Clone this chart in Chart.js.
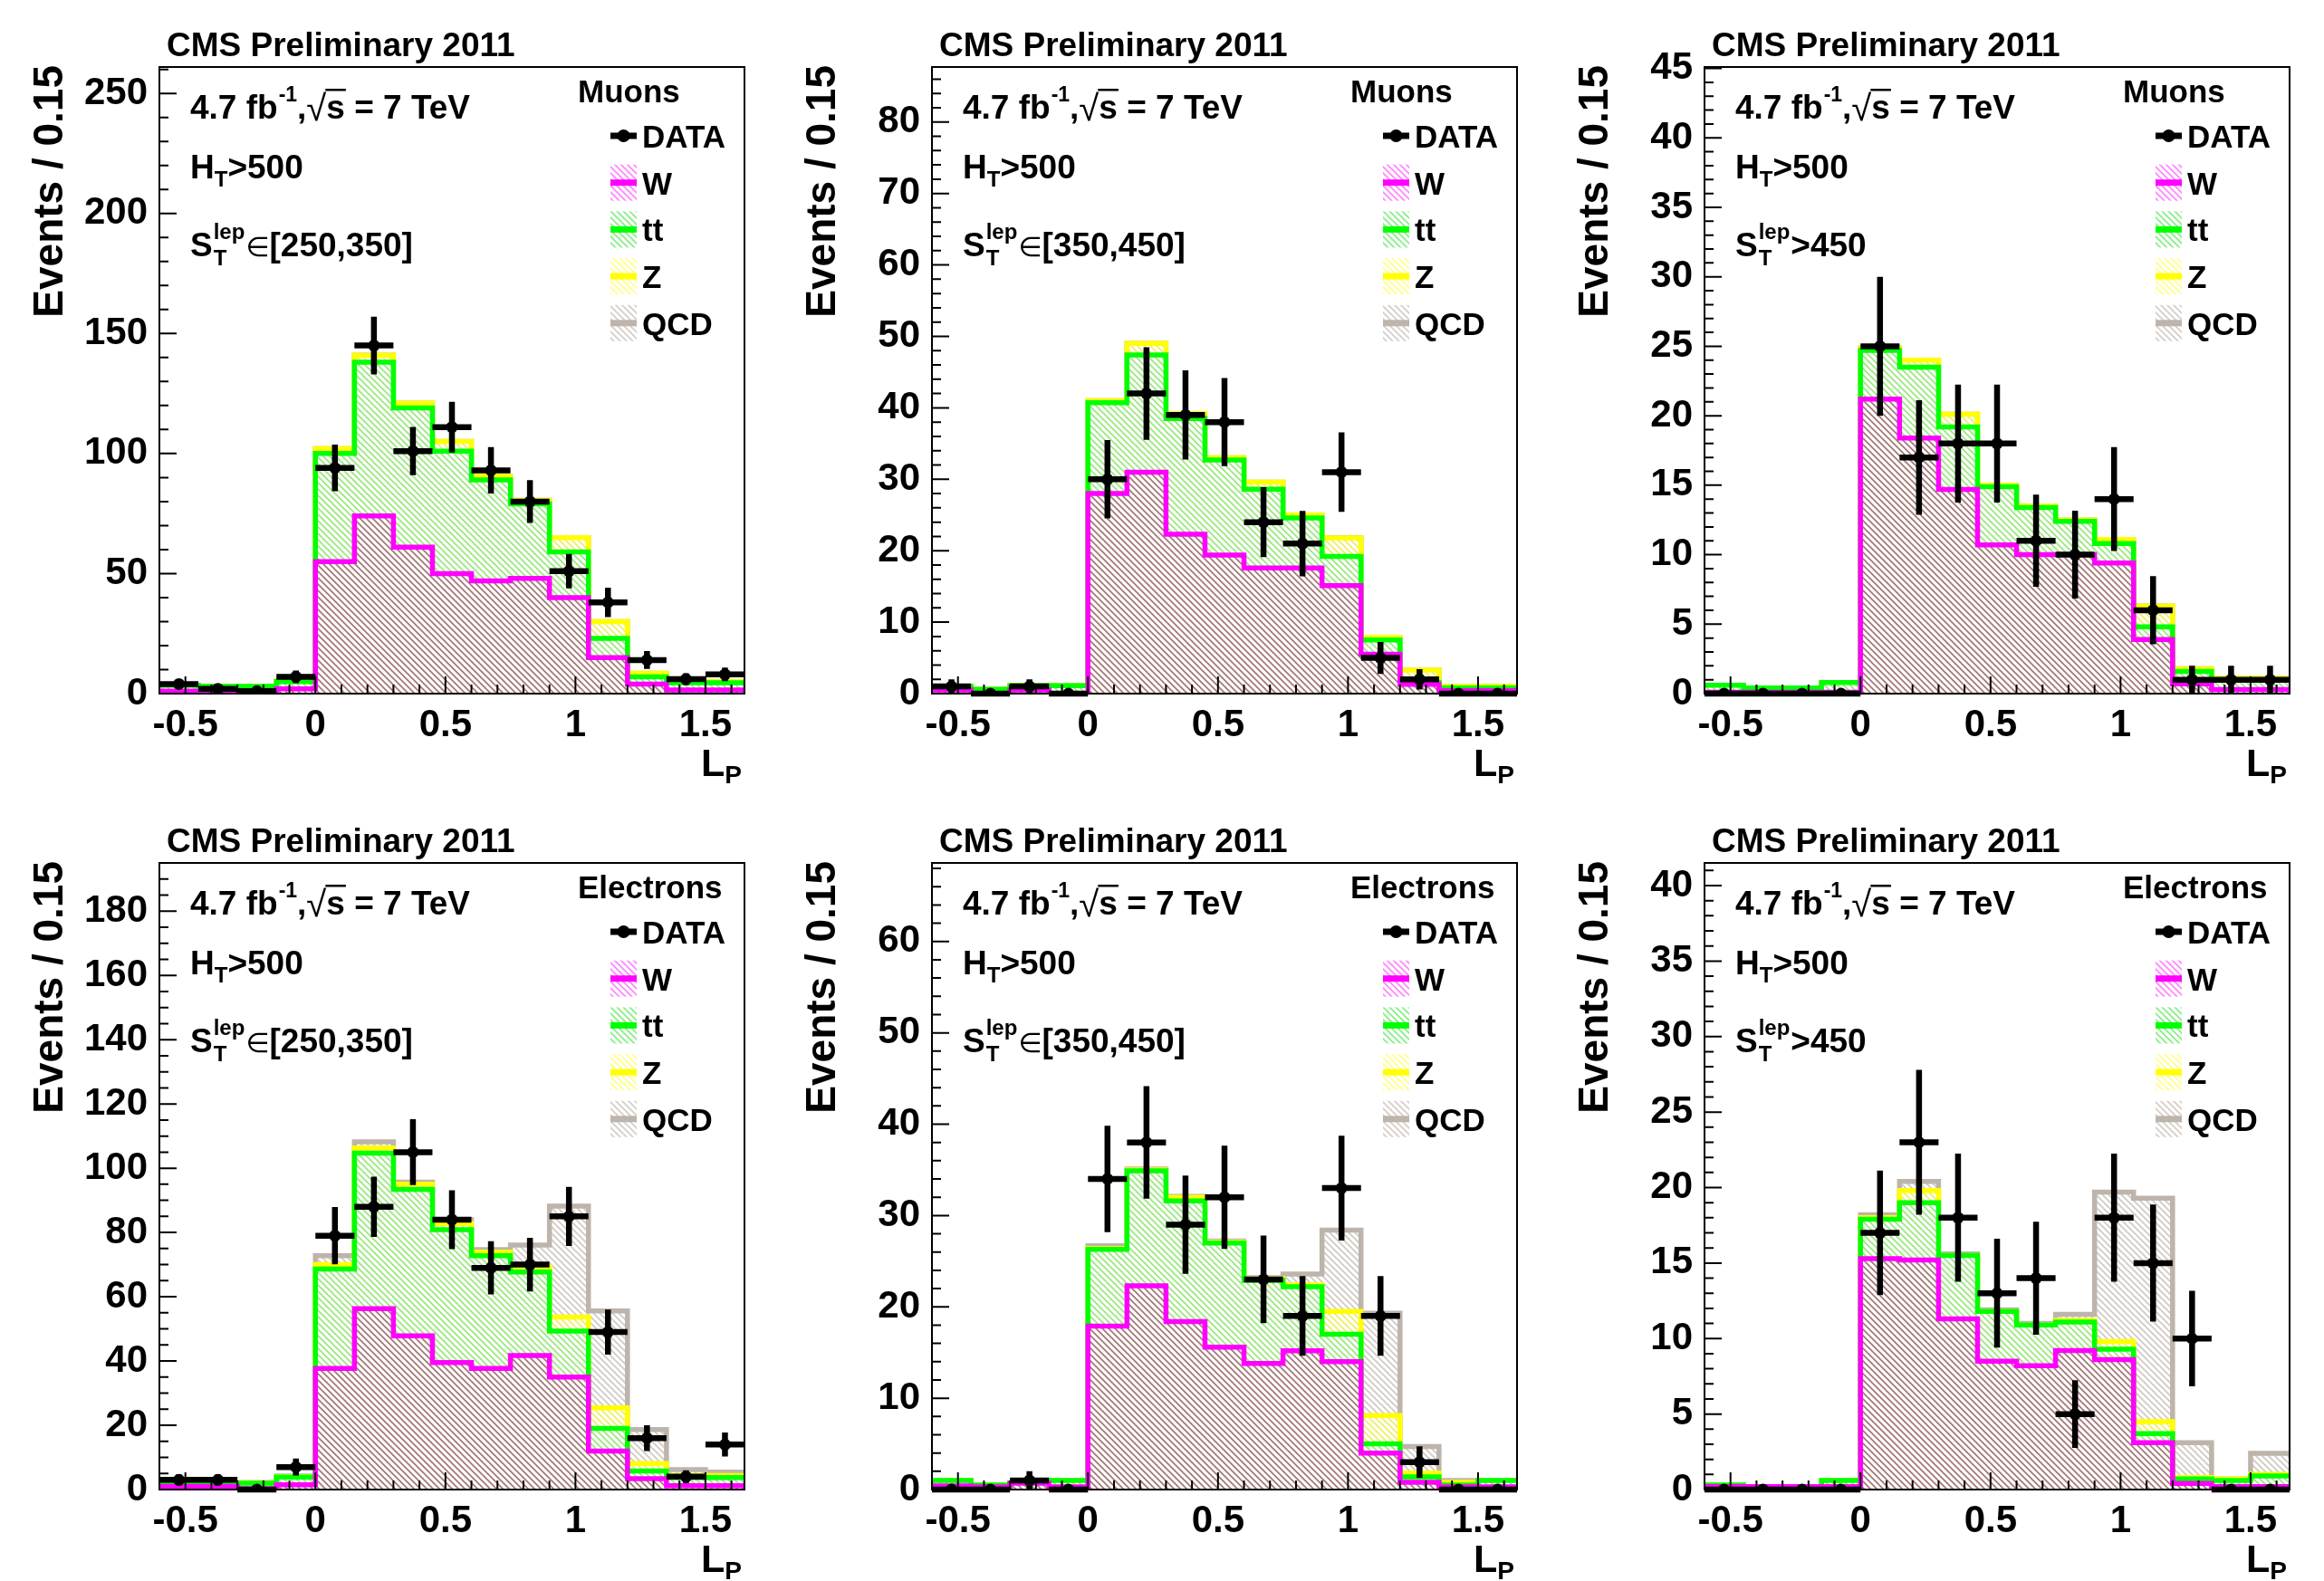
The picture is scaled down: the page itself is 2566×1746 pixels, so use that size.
<!DOCTYPE html>
<html>
<head>
<meta charset="utf-8">
<script src="https://cdn.jsdelivr.net/npm/chart.js@4.4.1/dist/chart.umd.min.js"></script>
<style>
  body { margin: 0; background: #fff; width: 2566px; height: 1746px; position: relative; overflow: hidden; }
  canvas { position: absolute; }
</style>
</head>
<body>
<canvas id="c0" width="853" height="867" style="left:0px;top:0px"></canvas>
<canvas id="c1" width="853" height="867" style="left:853px;top:0px"></canvas>
<canvas id="c2" width="853" height="867" style="left:1706px;top:0px"></canvas>
<canvas id="c3" width="853" height="867" style="left:0px;top:879px"></canvas>
<canvas id="c4" width="853" height="867" style="left:853px;top:879px"></canvas>
<canvas id="c5" width="853" height="867" style="left:1706px;top:879px"></canvas>
<script>
// bin edges of L_P (bin width 0.15)
const edges = [-0.6, -0.45, -0.3, -0.15, 0, 0.15, 0.3, 0.45, 0.6, 0.75, 0.9, 1.05, 1.2, 1.35, 1.5, 1.65];
const xTicks = [-0.5, 0, 0.5, 1, 1.5];

// muons, S_T in [250,350]
const muLowData = [4, 2, 1, 7, 94, 145, 101, 111, 93, 80, 51, 38, 14, 6, 8];
const muLowW    = [1, 0.5, 0.5, 2, 55, 74, 61, 50, 47, 48, 40, 15, 4, 1.5, 1.5];
const muLowTT   = [2.5, 2.5, 2.5, 3, 45, 64, 58, 51, 42, 31, 19, 8, 3, 3, 3];
const muLowZ    = [0, 0, 0, 0.3, 2, 3, 2, 4, 1.5, 1.5, 6, 7, 1.5, 0.5, 0.5];
const muLowQCD  = [0, 0, 0, 0, 0, 0, 0, 0, 0, 0, 0, 0, 0, 0, 0];

// muons, S_T in [350,450]
const muMidData = [1, 0, 1, 0, 30, 42, 39, 38, 24, 21, 31, 5, 2, 0, 0];
const muMidW    = [0.5, 0, 0.5, 0, 28, 31, 22.3, 19.4, 17.6, 17.6, 15.1, 5.5, 1.3, 0.4, 0.4];
const muMidTT   = [0.5, 0.6, 0.6, 1.1, 12.7, 16.4, 16.2, 13.3, 11, 7, 4.1, 2, 0.3, 0.4, 0.4];
const muMidZ    = [0, 0, 0, 0, 0.3, 1.6, 0.7, 0.3, 1, 0.4, 2.6, 0.4, 1.7, 0.2, 0.2];
const muMidQCD  = [0, 0, 0, 0, 0, 0, 0, 0, 0, 0, 0, 0, 0, 0, 0];

// muons, S_T > 450
const muHighData = [0, 0, 0, 0, 25, 17, 18, 18, 11, 10, 14, 6, 1, 1, 1];
const muHighW    = [0.1, 0.1, 0.1, 0.1, 21.2, 18.4, 14.7, 10.7, 10, 10, 9.4, 3.9, 0.7, 0.3, 0.3];
const muHighTT   = [0.5, 0.3, 0.3, 0.7, 3.5, 5.1, 4.5, 4.2, 3.4, 2.4, 1.4, 0.9, 0.9, 0.7, 0.7];
const muHighZ    = [0, 0, 0, 0, 0.2, 0.5, 0.9, 0.1, 0.1, 0.1, 0.3, 1.5, 0.2, 0.1, 0.1];
const muHighQCD  = [0, 0, 0, 0, 0, 0, 0, 0, 0, 0, 0, 0, 0, 0, 0];

// electrons, S_T in [250,350]
const elLowData = [3, 3, 0, 7, 79, 88, 105, 84, 69, 70, 85, 49, 16, 4, 14];
const elLowW    = [1, 1, 0.3, 1.5, 37.7, 56.3, 47.8, 39.5, 37.7, 41.7, 35, 12, 3.4, 1.2, 1.2];
const elLowTT   = [0.7, 0.7, 1.7, 2.4, 30.9, 48.4, 45.6, 41.4, 35.1, 26, 14.3, 7, 2.4, 2.5, 2.5];
const elLowZ    = [0.1, 0.1, 0.1, 0.1, 1.4, 1.6, 1.6, 1.9, 1.1, 1.6, 4.4, 6.4, 2.3, 0.7, 0.7];
const elLowQCD  = [0.2, 0.2, 0.1, 0.2, 2.8, 1.9, 0.7, 1.2, 0.8, 6.8, 34.5, 30.2, 10.6, 1.8, 1.0];

// electrons, S_T in [350,450]
const elMidData = [0, 0, 1, 0, 34, 38, 29, 32, 23, 19, 33, 19, 3, 0, 0];
const elMidW    = [0.4, 0.3, 0.7, 0.3, 17.9, 22.3, 18.4, 15.6, 13.8, 15.2, 14, 4, 0.8, 0.3, 0.3];
const elMidTT   = [0.6, 0.2, 0, 0.7, 8.4, 12.6, 13.2, 11.4, 9.1, 7, 3, 1, 0.6, 0.2, 0.7];
const elMidZ    = [0, 0, 0, 0, 0.1, 0.1, 0.4, 0.1, 0.2, 0.2, 2.5, 3.1, 0.4, 0.3, 0];
const elMidQCD  = [0, 0, 0, 0, 0.3, 0.1, 0.1, 0.1, 0.1, 1.2, 8.9, 11.2, 2.9, 0.2, 0];

// electrons, S_T > 450
const elHighData = [0, 0, 0, 0, 17, 23, 18, 13, 14, 5, 18, 15, 10, 0, 0];
const elHighW    = [0.2, 0.2, 0.2, 0.2, 15.3, 15.2, 11.3, 8.5, 8.2, 9.2, 8.6, 3.1, 0.4, 0.2, 0.2];
const elHighTT   = [0.1, 0, 0, 0.4, 2.6, 3.8, 4.2, 3.3, 2.7, 1.9, 0.7, 0.6, 0.3, 0.4, 0.7];
const elHighZ    = [0, 0, 0, 0, 0.1, 0.8, 0, 0, 0, 0.1, 0.5, 0.8, 0.1, 0.1, 0.1];
const elHighQCD  = [0, 0, 0, 0, 0.2, 0.6, 0.1, 0.1, 0.1, 0.4, 9.9, 14.8, 2.3, 0, 1.4];

// y axis ranges and tick steps, one per panel
const yMaxes = [261, 87.7, 45.1, 195, 68.6, 41.5];
const yMajor = [50, 10, 5, 20, 10, 5];
const yMinor = [10, 2, 1, 5, 2, 1];

const lepNames = ['Muons', 'Muons', 'Muons', 'Electrons', 'Electrons', 'Electrons'];
const stCuts = ['[250,350]', '[350,450]', '>450', '[250,350]', '[350,450]', '>450'];

const FONT = "'Liberation Sans', Arial, 'DejaVu Sans', sans-serif";

// hatch patterns ("\\\\" like ROOT fill style)
function hatch(color, bg) {
  const s = 7;
  const c = document.createElement('canvas');
  c.width = s; c.height = s;
  const g = c.getContext('2d');
  if (bg) { g.fillStyle = bg; g.fillRect(0, 0, s, s); }
  g.strokeStyle = color;
  g.lineWidth = 1.8;
  g.beginPath();
  for (let k = -1; k <= 1; k++) {
    g.moveTo(-1, -1 + k * s);
    g.lineTo(s + 1, s + 1 + k * s);
  }
  g.stroke();
  return g.createPattern(c, 'repeat');
}

const lineCol = { w: '#ff00ff', tt: '#00ff00', z: '#ffff00', qcd: '#bdb4ab' };
const fillPat = {
  w: hatch('#a47a78', '#ffffff'),
  tt: hatch('#9be87f', '#ffffff'),
  z: hatch('#eeee66', '#ffffff'),
  qcd: hatch('#d2cac4', '#ffffff')
};
const legPat = {
  w: hatch('#ff88ff'),
  tt: hatch('#88ee88'),
  z: hatch('#ffff88'),
  qcd: hatch('#d6cec8')
};

function steps(levels) {
  const pts = levels.map((v, i) => ({ x: edges[i], y: v }));
  pts.push({ x: edges[edges.length - 1], y: levels[levels.length - 1] });
  return pts;
}

function addUp(a, b) {
  return a.map((v, i) => v + b[i]);
}

function txt(ctx, s, x, y, size, align, weight) {
  ctx.font = (weight || 'bold') + ' ' + size + 'px ' + FONT;
  ctx.textAlign = align || 'left';
  ctx.textBaseline = 'alphabetic';
  ctx.fillText(s, x, y);
  return x + ctx.measureText(s).width;
}

function histSet(levels, key, order) {
  return {
    data: steps(levels),
    stepped: true,
    borderColor: lineCol[key],
    borderWidth: 5.5,
    borderJoinStyle: 'miter',
    backgroundColor: fillPat[key],
    fill: 'origin',
    pointRadius: 0,
    order: order
  };
}

const decorations = {
  id: 'decorations',
  beforeDatasetDraw(chart, args) {
    if (args.index !== 0) return;
    const p = chart.options.plugins.decorations;
    const { ctx, chartArea: a, scales: { x, y } } = chart;
    ctx.save();
    // inward ticks
    ctx.strokeStyle = '#000';
    ctx.lineWidth = 2;
    ctx.beginPath();
    const n = Math.floor(p.yMax / p.minor + 1e-9);
    for (let i = 0; i <= n; i++) {
      const v = i * p.minor;
      const py = y.getPixelForValue(v);
      const len = (Math.abs(v / p.major - Math.round(v / p.major)) < 1e-6) ? 19 : 10;
      ctx.moveTo(a.left, py);
      ctx.lineTo(a.left + len, py);
    }
    for (let k = -6; k <= 16; k++) {
      const px = x.getPixelForValue(k / 10);
      const len = (k % 5 === 0) ? 19 : 10;
      ctx.moveTo(px, a.bottom);
      ctx.lineTo(px, a.bottom - len);
    }
    ctx.stroke();
    // error bars on data
    ctx.lineWidth = 6.5;
    ctx.lineCap = 'butt';
    ctx.beginPath();
    p.data.forEach((v, i) => {
      const x0 = x.getPixelForValue(edges[i]);
      const x1 = x.getPixelForValue(edges[i + 1]);
      const py = y.getPixelForValue(v);
      ctx.moveTo(x0, py);
      ctx.lineTo(x1, py);
      if (v > 0) {
        const e = Math.sqrt(v);
        const xc = (x0 + x1) / 2;
        ctx.moveTo(xc, y.getPixelForValue(v + e));
        ctx.lineTo(xc, y.getPixelForValue(Math.max(v - e, 0)));
      }
    });
    ctx.stroke();
    ctx.restore();
  },
  afterDraw(chart) {
    const p = chart.options.plugins.decorations;
    const { ctx, chartArea: a } = chart;
    ctx.save();
    ctx.fillStyle = '#000';
    ctx.strokeStyle = '#000';
    // frame
    ctx.lineWidth = 2;
    ctx.strokeRect(a.left, a.top, a.right - a.left, a.bottom - a.top);

    // title
    txt(ctx, 'CMS Preliminary 2011', a.left + 8, a.top - 12, 37);

    // y title
    ctx.save();
    ctx.translate(a.left - 107, a.top - 2);
    ctx.rotate(-Math.PI / 2);
    txt(ctx, 'Events / 0.15', 0, 0, 46, 'right');
    ctx.restore();

    // x title
    let xx = txt(ctx, 'L', a.right - 48, a.bottom + 91, 43);
    txt(ctx, 'P', xx, a.bottom + 99, 28);

    // info text
    const x0 = a.left + 34;
    let y0 = a.top + 57;
    let x = txt(ctx, '4.7 fb', x0, y0, 37);
    x = txt(ctx, '-1', x + 1, y0 - 19, 23);
    x = txt(ctx, ',', x, y0, 37);
    const rx = txt(ctx, '\u221A', x, y0 + 2, 40, 'left', 'normal');
    const sx = txt(ctx, 's', rx, y0, 37);
    ctx.fillRect(rx - 1, y0 - 33, sx - rx + 2, 2.5);
    txt(ctx, ' = 7 TeV', sx, y0, 37);

    y0 = a.top + 123;
    x = txt(ctx, 'H', x0, y0, 37);
    x = txt(ctx, 'T', x, y0 + 9, 24);
    txt(ctx, '>500', x, y0, 37);

    y0 = a.top + 209;
    x = txt(ctx, 'S', x0, y0, 37);
    const x1 = txt(ctx, 'T', x + 1, y0 + 10, 24);
    const x2 = txt(ctx, 'lep', x + 1, y0 - 19, 24);
    x = Math.max(x1, x2) + 1;
    if (p.cut.charAt(0) === '[') {
      x = txt(ctx, '\u2208', x, y0, 30, 'left', 'normal');
    }
    txt(ctx, p.cut, x, y0, 37);

    // legend
    txt(ctx, p.lep, a.left + 462, a.top + 39, 35);
    const sx0 = a.left + 498, sw = 29, tx = a.left + 533;
    const rows = [
      { label: 'DATA' },
      { label: 'W', key: 'w' },
      { label: 'tt', key: 'tt' },
      { label: 'Z', key: 'z' },
      { label: 'QCD', key: 'qcd' }
    ];
    rows.forEach((r, k) => {
      const base = a.top + 89 + k * 51.7;
      const cy = base - 13;
      if (!r.key) {
        ctx.fillStyle = '#000';
        ctx.fillRect(sx0, cy - 3.5, sw, 7);
        ctx.beginPath();
        ctx.arc(sx0 + sw / 2, cy, 7, 0, Math.PI * 2);
        ctx.fill();
      } else {
        ctx.fillStyle = legPat[r.key];
        ctx.fillRect(sx0, cy - 20, sw, 40);
        ctx.fillStyle = lineCol[r.key];
        ctx.fillRect(sx0, cy - 3.5, sw, 7);
      }
      ctx.fillStyle = '#000';
      txt(ctx, r.label, tx, base, 35);
    });
    ctx.restore();
  }
};

const panels = [
  { data: muLowData, w: muLowW, tt: muLowTT, z: muLowZ, qcd: muLowQCD },
  { data: muMidData, w: muMidW, tt: muMidTT, z: muMidZ, qcd: muMidQCD },
  { data: muHighData, w: muHighW, tt: muHighTT, z: muHighZ, qcd: muHighQCD },
  { data: elLowData, w: elLowW, tt: elLowTT, z: elLowZ, qcd: elLowQCD },
  { data: elMidData, w: elMidW, tt: elMidTT, z: elMidZ, qcd: elMidQCD },
  { data: elHighData, w: elHighW, tt: elHighTT, z: elHighZ, qcd: elHighQCD }
];

const centers = edges.slice(0, -1).map((e, i) => (e + edges[i + 1]) / 2);

panels.forEach((p, idx) => {
  const wTop = p.w;
  const ttTop = addUp(wTop, p.tt);
  const zTop = addUp(ttTop, p.z);
  const qcdTop = addUp(zTop, p.qcd);

  const tickFont = { family: FONT, size: 42, weight: 'bold' };

  new Chart(document.getElementById('c' + idx), {
    type: 'line',
    data: {
      datasets: [
        {
          data: centers.map((c, i) => ({ x: c, y: p.data[i] })),
          showLine: false,
          pointRadius: 6.5,
          pointBackgroundColor: '#000',
          pointBorderWidth: 0,
          order: 0
        },
        histSet(wTop, 'w', 1),
        histSet(ttTop, 'tt', 2),
        histSet(zTop, 'z', 3),
        histSet(qcdTop, 'qcd', 4)
      ]
    },
    options: {
      responsive: false,
      animation: false,
      events: [],
      layout: { padding: { top: 74, right: 31, left: 0, bottom: 0 } },
      scales: {
        x: {
          type: 'linear',
          min: edges[0],
          max: edges[edges.length - 1],
          afterFit: s => { s.height = 101; },
          afterBuildTicks: s => { s.ticks = xTicks.map(v => ({ value: v })); },
          grid: { display: false },
          border: { display: false },
          ticks: {
            color: '#000',
            font: tickFont,
            padding: 2,
            autoSkip: false,
            maxRotation: 0,
            callback: v => String(v)
          }
        },
        y: {
          min: 0,
          max: yMaxes[idx],
          afterFit: s => { s.width = 176; },
          grid: { display: false },
          border: { display: false },
          ticks: {
            color: '#000',
            font: tickFont,
            padding: 5,
            stepSize: yMajor[idx],
            includeBounds: false,
            callback: v => String(v)
          }
        }
      },
      plugins: {
        legend: { display: false },
        tooltip: { enabled: false },
        decorations: {
          data: p.data,
          yMax: yMaxes[idx],
          major: yMajor[idx],
          minor: yMinor[idx],
          lep: lepNames[idx],
          cut: stCuts[idx]
        }
      }
    },
    plugins: [decorations]
  });
});
</script>
</body>
</html>
